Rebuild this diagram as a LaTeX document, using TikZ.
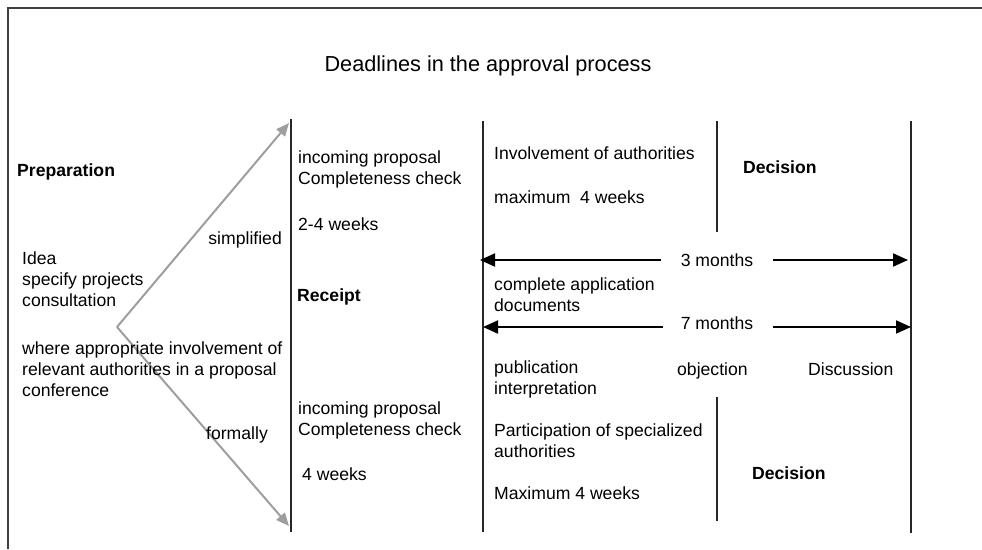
\documentclass[tikz,border=0pt]{standalone}
\usepackage{fontspec}
\setmainfont{Liberation Sans}
\usetikzlibrary{arrows.meta}
\begin{document}
\begin{tikzpicture}[x=1pt,y=-1pt,
  txt/.style={anchor=base west,inner sep=0pt,align=left,font=\fontsize{17.6}{21}\selectfont},
  bold/.style={txt,font=\fontsize{17.6}{21}\selectfont\bfseries},
  bar/.style={line width=2.6pt,draw=black!85},
  route/.style={line width=2pt,draw=black!38,-{Triangle[length=13pt,width=11pt]},fill=black!38},
  span/.style={line width=2pt,draw=black,-{Triangle[length=15pt,width=13pt]}}]
\useasboundingbox (0,0) rectangle (982,549);
% frame
\draw[line width=2pt,black!75] (8,549) -- (8,8) -- (982,8);
% title
\node[inner sep=0pt,font=\fontsize{21.7}{26}\selectfont] (title) at (488,66) {Deadlines in the approval process};

% vertical bars
\coordinate (b1t) at (291,119); \coordinate (b1b) at (291,532);
\coordinate (b2t) at (483,121); \coordinate (b2b) at (483,532);
\coordinate (b3t) at (717,121); \coordinate (b3b) at (717,232);
\coordinate (b4t) at (717,397); \coordinate (b4b) at (717,521);
\coordinate (b5t) at (911,121); \coordinate (b5b) at (911,533);
\draw[bar] (b1t) -- (b1b);
\draw[bar] (b2t) -- (b2b);
\draw[bar] (b3t) -- (b3b);
\draw[bar] (b4t) -- (b4b);
\draw[bar] (b5t) -- (b5b);

% branching routes
\coordinate (apex) at (117,327);
\coordinate (up) at (289,123);
\coordinate (down) at (289,526);
\draw[route] (apex) -- (up);
\draw[route] (apex) -- (down);

% deadline spans
\coordinate (m3l) at (480,260); \coordinate (m3r) at (908,260);
\coordinate (m7l) at (483,327); \coordinate (m7r) at (911,327);
\node[inner sep=0pt,font=\fontsize{17.6}{21}\selectfont] (m3) at (717,260) {3 months};
\node[inner sep=0pt,font=\fontsize{17.6}{21}\selectfont] (m7) at (717,323) {7 months};
\coordinate (m3a) at (661,260); \coordinate (m3b) at (773,260);
\coordinate (m7a) at (663,327); \coordinate (m7b) at (773,327);
\draw[span] (m3a) -- (m3l);
\draw[span] (m3b) -- (m3r);
\draw[span] (m7a) -- (m7l);
\draw[span] (m7b) -- (m7r);

% left column (base anchor = baseline of the last line)
\node[bold] (prep) at (17,176) {Preparation};
\node[txt] (idea) at (22,306) {Idea\\specify projects\\consultation};
\node[txt] (conf) at (22,396) {where appropriate involvement of\\relevant authorities in a proposal\\conference};
\node[txt,anchor=base east] (simp) at (282,244) {simplified};
\node[txt] (form) at (206,439) {formally};

% receipt column
\node[txt] (in1) at (298,184) {incoming proposal\\Completeness check};
\node[txt] (w24) at (298,230) {2-4 weeks};
\node[bold] (rec) at (297,301) {Receipt};
\node[txt] (in2) at (298,435) {incoming proposal\\Completeness check};
\node[txt] (w4) at (302,480) {4 weeks};

% authority column
\node[txt] (inv) at (494,159) {Involvement of authorities};
\node[txt] (max1) at (494,203) {maximum\ \ 4 weeks};
\node[bold] (dec1) at (743,173) {Decision};
\node[txt] (docs) at (494,311) {complete application\\documents};
\node[txt] (pub) at (494,394) {publication\\interpretation};
\node[txt] (obj) at (677,375) {objection};
\node[txt] (disc) at (808,375) {Discussion};
\node[txt] (part) at (494,457) {Participation of specialized\\authorities};
\node[txt] (max2) at (494,499) {Maximum 4 weeks};
\node[bold] (dec2) at (752,479) {Decision};
\end{tikzpicture}
\end{document}
